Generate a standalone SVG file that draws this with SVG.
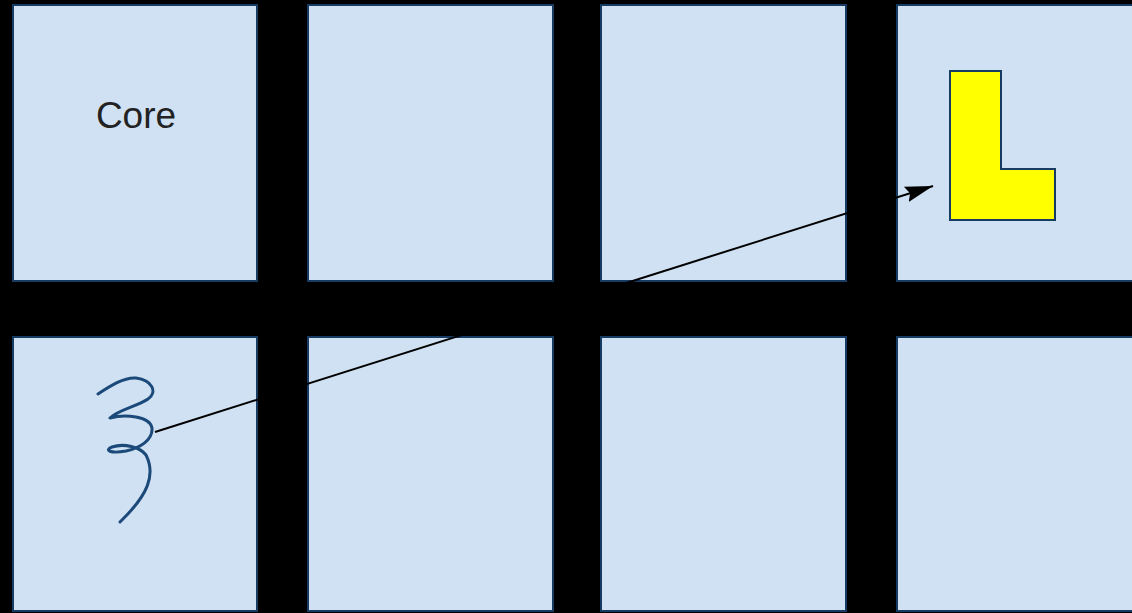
<svg xmlns="http://www.w3.org/2000/svg" width="1132" height="613" viewBox="0 0 1132 613">
  <defs>
    <style>
      .cell { fill: #cfe1f2; stroke: #173b63; stroke-width: 2; }
      .lbl { font-family: "Liberation Sans", Arial, sans-serif; font-size: 37px; fill: #222222; }
      .conn { stroke: #000000; stroke-width: 2; fill: none; }
    </style>
    <marker id="arrow" markerUnits="userSpaceOnUse" markerWidth="30" markerHeight="20" viewBox="0 0 30 20" refX="28" refY="10" orient="auto">
      <path d="M0,2 L28,10 L0,18 L4,10 Z" fill="#000"/>
    </marker>
  </defs>
  <rect x="0" y="0" width="1132" height="613" fill="#000"/>
  <g id="cell-r1c1"><rect class="cell" x="13" y="5" width="244" height="276"/><text class="lbl" x="136" y="128" text-anchor="middle">Core</text></g>
  <g id="cell-r1c2"><rect class="cell" x="308" y="5" width="245" height="276"/></g>
  <g id="cell-r1c3"><rect class="cell" x="601" y="5" width="245" height="276"/></g>
  <g id="cell-r1c4"><rect class="cell" x="897" y="5" width="250" height="276"/></g>
  <g id="cell-r2c1"><rect class="cell" x="13" y="337" width="244" height="274"/></g>
  <g id="cell-r2c2"><rect class="cell" x="308" y="337" width="245" height="274"/></g>
  <g id="cell-r2c3"><rect class="cell" x="601" y="337" width="245" height="274"/></g>
  <g id="cell-r2c4"><rect class="cell" x="897" y="337" width="250" height="274"/></g>
  <g id="l-shape"><path d="M950,71 L1001,71 L1001,169 L1055,169 L1055,220 L950,220 Z" fill="#ffff00" stroke="#173b63" stroke-width="2"/></g>
  <g id="squiggle"><path d="M98,394 C110,386 124,377 136,378 C152,380 158,392 148,399 C138,406 118,410 110,418 C125,414 150,416 152,428 C153,440 140,448 126,451 C110,454 104,450 112,447 C124,443 140,447 146,455 C156,475 148,495 120,522" fill="none" stroke="#1b4a7a" stroke-width="3" stroke-linecap="round" stroke-linejoin="round"/></g>
  <g id="connectors"><line class="conn" x1="155" y1="432" x2="933" y2="186" marker-end="url(#arrow)"/></g>
</svg>
